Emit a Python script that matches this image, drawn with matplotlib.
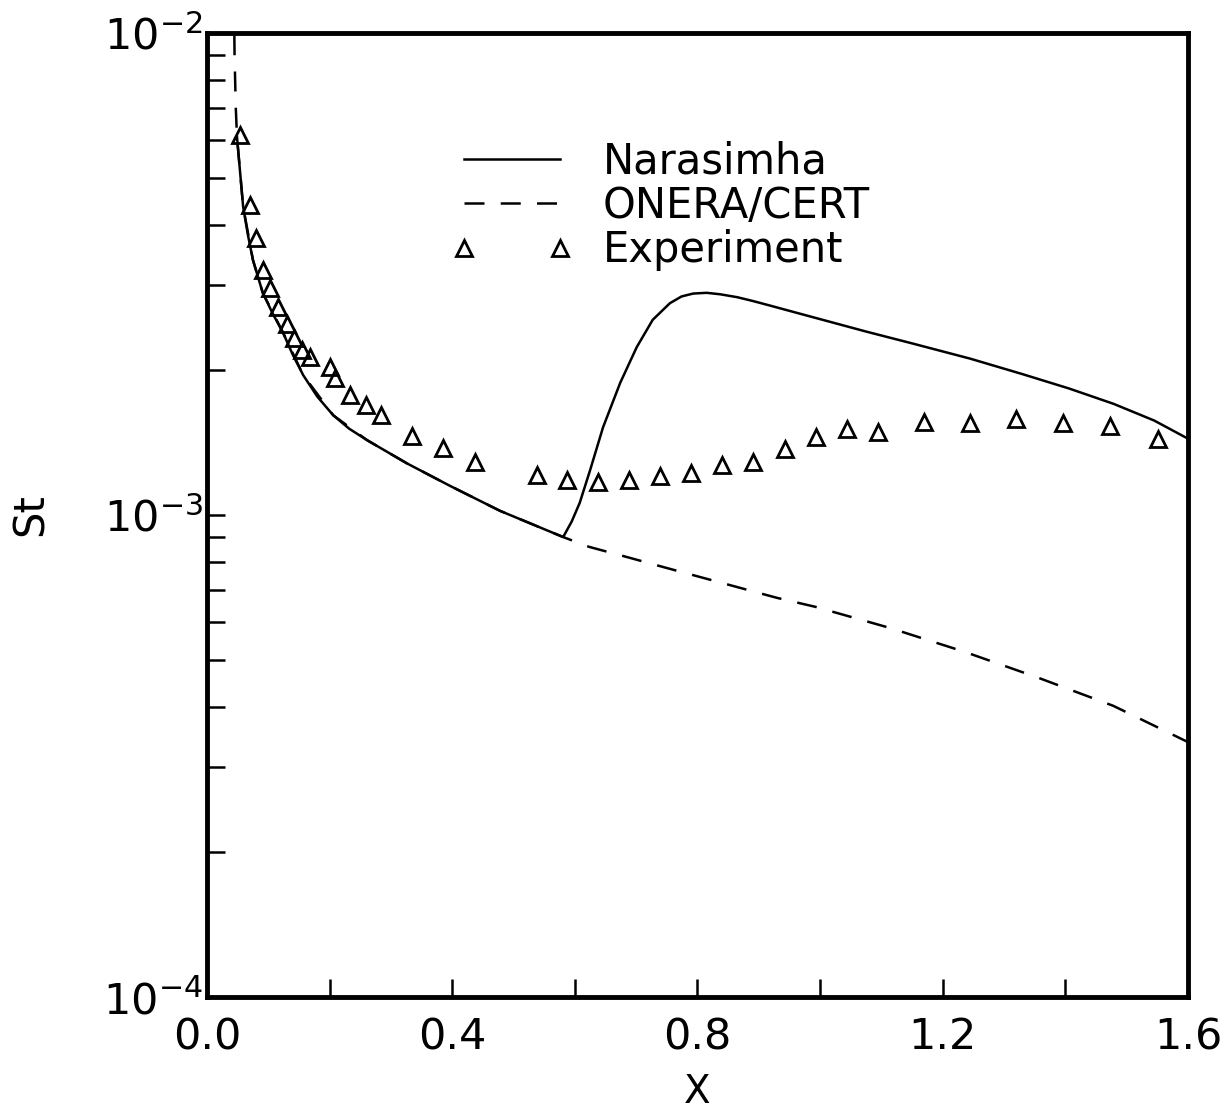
import matplotlib
matplotlib.use("Agg")
import matplotlib.pyplot as plt
from matplotlib.ticker import MultipleLocator, LogLocator, NullFormatter

# Narasimha model (solid)
nar_x = [0.049, 0.059, 0.067, 0.075, 0.091, 0.107, 0.124, 0.140, 0.157, 0.180,
         0.206, 0.232, 0.261, 0.326, 0.396, 0.478, 0.581, 0.595, 0.608, 0.625,
         0.646, 0.674, 0.701, 0.727, 0.755, 0.774, 0.793, 0.815, 0.837, 0.865,
         0.890, 0.918, 0.946, 1.076, 1.150, 1.245, 1.330, 1.406, 1.479, 1.545,
         1.600]
nar_st = [6.08e-3, 4.36e-3, 3.80e-3, 3.38e-3, 2.89e-3, 2.62e-3, 2.39e-3, 2.15e-3,
          1.95e-3, 1.76e-3, 1.61e-3, 1.51e-3, 1.43e-3, 1.28e-3, 1.15e-3, 1.02e-3,
          9.0e-4, 9.7e-4, 1.06e-3, 1.24e-3, 1.52e-3, 1.88e-3, 2.23e-3, 2.54e-3,
          2.75e-3, 2.84e-3, 2.88e-3, 2.89e-3, 2.87e-3, 2.83e-3, 2.78e-3, 2.72e-3,
          2.66e-3, 2.40e-3, 2.27e-3, 2.11e-3, 1.96e-3, 1.83e-3, 1.70e-3, 1.57e-3,
          1.44e-3]

# ONERA/CERT model (dashed)
onera_x = [0.044, 0.045, 0.047, 0.049, 0.059, 0.075, 0.091, 0.124, 0.157, 0.206,
           0.261, 0.326, 0.396, 0.478, 0.581, 0.623, 0.685, 0.744, 0.930, 0.992,
           1.114, 1.236, 1.357, 1.478, 1.600]
onera_st = [1.2e-2, 9.0e-3, 7.0e-3, 6.08e-3, 4.36e-3, 3.38e-3, 2.89e-3, 2.39e-3,
            1.95e-3, 1.61e-3, 1.43e-3, 1.28e-3, 1.15e-3, 1.02e-3, 9.0e-4, 8.59e-4,
            8.18e-4, 7.80e-4, 6.73e-4, 6.45e-4, 5.83e-4, 5.20e-4, 4.59e-4, 4.02e-4,
            3.38e-4]

# experiment
exp_x = [0.054, 0.070, 0.080, 0.091, 0.103, 0.116, 0.130, 0.142, 0.155, 0.168,
         0.201, 0.209, 0.233, 0.259, 0.284, 0.334, 0.385, 0.437, 0.538, 0.587,
         0.638, 0.688, 0.739, 0.789, 0.840, 0.891, 0.943, 0.993, 1.044, 1.094,
         1.169, 1.245, 1.320, 1.396, 1.473, 1.551]
exp_st = [6.14e-3, 4.40e-3, 3.76e-3, 3.22e-3, 2.96e-3, 2.70e-3, 2.49e-3, 2.33e-3,
          2.20e-3, 2.13e-3, 2.03e-3, 1.92e-3, 1.77e-3, 1.69e-3, 1.61e-3, 1.46e-3,
          1.38e-3, 1.29e-3, 1.21e-3, 1.18e-3, 1.17e-3, 1.18e-3, 1.205e-3, 1.22e-3,
          1.27e-3, 1.29e-3, 1.37e-3, 1.45e-3, 1.51e-3, 1.49e-3, 1.56e-3, 1.55e-3,
          1.58e-3, 1.55e-3, 1.53e-3, 1.44e-3]

plt.rcParams['font.family'] = ['DejaVu Sans']
plt.rcParams['mathtext.default'] = 'regular'

fig = plt.figure(figsize=(12.29, 11.17), dpi=100)
ax = fig.add_axes([0.1684, 0.1074, 0.7982, 0.8631])

ax.plot(nar_x, nar_st, color='black', lw=1.8, label='Narasimha')
ax.plot(onera_x, onera_st, color='black', lw=1.8, dashes=[8, 6.5], label='ONERA/CERT')
ax.plot(exp_x, exp_st, linestyle='none', marker='^', ms=11, mfc='none',
        mec='black', mew=2, label='Experiment')

ax.set_yscale('log')
ax.set_xlim(0.0, 1.6)
ax.set_ylim(1e-4, 1e-2)

ax.xaxis.set_major_locator(MultipleLocator(0.4))
ax.xaxis.set_minor_locator(MultipleLocator(0.2))
ax.xaxis.set_major_formatter(plt.FuncFormatter(lambda v, p: f'{v:.1f}'))
ax.yaxis.set_major_locator(LogLocator(base=10, numticks=5))
ax.yaxis.set_minor_locator(LogLocator(base=10, subs=range(2, 10), numticks=20))
ax.yaxis.set_minor_formatter(NullFormatter())

ax.tick_params(which='both', direction='in', length=13, width=1.8,
               top=False, right=False, labelsize=31)
ax.tick_params(axis='x', pad=14)
ax.tick_params(axis='y', pad=3)

for s in ax.spines.values():
    s.set_linewidth(3.5)

ax.set_xlabel('X', fontsize=28)
ax.set_ylabel('St', fontsize=30)
ax.xaxis.set_label_coords(0.5, -0.079)
ax.yaxis.set_label_coords(-0.158, 0.5)

ax.legend(loc='upper left', bbox_to_anchor=(0.2497, 0.888), frameon=False,
          fontsize=30, numpoints=2, handlelength=2.9, handletextpad=0.72,
          labelspacing=0.05, borderpad=0, borderaxespad=0)

fig.savefig('out.png', dpi=100)
